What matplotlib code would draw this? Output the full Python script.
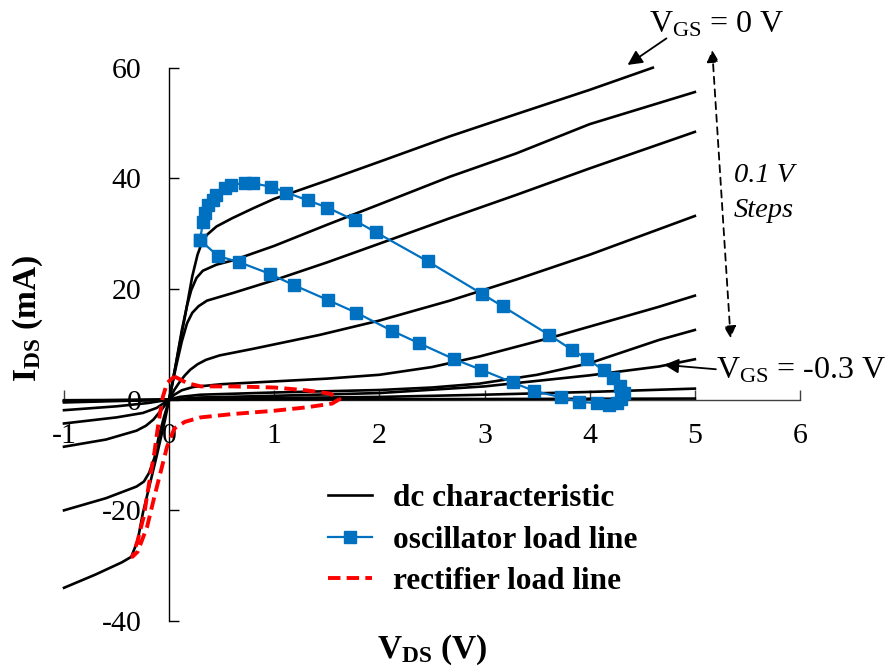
import matplotlib
matplotlib.use("Agg")
import matplotlib.pyplot as plt
from matplotlib.lines import Line2D

plt.rcParams['font.family'] = ['Liberation Serif', 'DejaVu Serif']
plt.rcParams['mathtext.fontset'] = 'custom'
plt.rcParams['mathtext.rm'] = 'Liberation Serif'
plt.rcParams['mathtext.it'] = 'Liberation Serif:italic'
plt.rcParams['mathtext.bf'] = 'Liberation Serif:bold'

# ---------------- data ----------------
# dc characteristic curves (VGS = 0 V ... -0.3 V and below)
dcA_v = [-1.0, -0.7, -0.45, -0.36, -0.3, -0.25, -0.18, -0.12, -0.04, 0, 0.08, 0.16, 0.22, 0.27, 0.31, 0.36, 0.45, 0.6, 0.8, 1.0, 1.5, 2.0, 2.67, 3.3, 4.0, 4.6]
dcA_i = [-34, -31.6, -29.4, -28.4, -25.5, -20.5, -15, -10.3, -3.7, 0, 8, 16, 22.3, 26.2, 28.3, 29.8, 31.3, 32.8, 34.6, 36.3, 39.6, 43, 47.6, 51.6, 56, 60]
dcB_v = [-1.0, -0.6, -0.31, -0.24, -0.19, -0.14, -0.1, -0.05, 0, 0.06, 0.12, 0.17, 0.21, 0.26, 0.32, 0.45, 0.61, 1.0, 1.5, 2.0, 2.67, 3.3, 4.0, 5.0]
dcB_i = [-20, -17.8, -15.7, -14.8, -13.2, -10.5, -6.8, -3.2, 0, 6, 12.5, 17, 19.8, 22, 23.3, 24.4, 25.2, 27.8, 31.6, 35.3, 40.3, 44.5, 49.8, 55.6]
dcC_v = [-1.0, -0.6, -0.31, -0.22, -0.15, -0.08, 0, 0.06, 0.12, 0.17, 0.22, 0.28, 0.36, 0.61, 1.0, 1.5, 2.0, 2.67, 3.3, 4.0, 5.0]
dcC_i = [-8.5, -7.2, -5.6, -4.7, -3.6, -2.0, 0, 5.5, 10.5, 13.8, 15.7, 16.9, 17.9, 19.3, 21.6, 24.8, 28.2, 32.8, 37, 41.8, 48.4]
dcD_v = [-1.0, -0.5, -0.25, -0.12, 0, 0.05, 0.1, 0.15, 0.2, 0.27, 0.35, 0.48, 0.8, 1.43, 2.0, 2.67, 3.3, 4.0, 5.0]
dcD_i = [-4.3, -3.2, -2.4, -1.5, 0, 1.8, 3.2, 4.4, 5.4, 6.4, 7.2, 8.0, 9.2, 11.7, 14.3, 17.9, 21.7, 26.2, 33.2]
dcE_v = [-1.0, -0.5, -0.2, 0, 0.05, 0.12, 0.23, 0.5, 1.0, 1.5, 2.0, 2.5, 2.95, 3.61, 4.2, 4.66, 5.0]
dcE_i = [-1.9, -1.2, -0.6, 0, 0.9, 1.7, 2.3, 2.8, 3.3, 3.8, 4.5, 5.9, 7.8, 11.1, 14.3, 16.8, 18.8]
dcF_v = [-1.0, 0, 0.1, 0.3, 1.0, 2.0, 2.5, 2.95, 3.5, 4.0, 4.66, 5.0]
dcF_i = [-0.5, 0, 0.5, 0.9, 1.3, 1.75, 2.2, 2.9, 4.5, 6.6, 10.8, 12.6]
dcG_v = [-1.0, 0, 0.3, 1.0, 2.0, 3.0, 4.0, 4.66, 5.0]
dcG_i = [-0.3, 0, 0.4, 0.7, 1.2, 2.4, 4.4, 6.0, 7.3]
dcH_v = [-1.0, 0, 1.0, 2.0, 3.0, 4.0, 5.0]
dcH_i = [-0.2, 0, 0.3, 0.5, 0.9, 1.4, 2.0]
dcI_v = [-1.0, 0, 5.0]
dcI_i = [-0.1, 0, 0.2]

# oscillator load line (closed loop, square markers)
osc_v = [0.293, 0.323, 0.339, 0.370, 0.418, 0.450, 0.529, 0.593, 0.719, 0.798, 0.972, 1.115, 1.320, 1.505,
         1.764, 1.966, 2.460, 2.974, 3.172, 3.615, 3.834, 3.974, 4.133, 4.220, 4.285, 4.323, 4.299, 4.261,
         4.185, 4.074, 3.894, 3.727, 3.473, 3.267, 2.967, 2.713, 2.378, 2.120, 1.780, 1.510, 1.184, 0.956,
         0.662, 0.465, 0.293]
osc_i = [28.85, 32.16, 33.68, 35.18, 36.08, 36.98, 38.19, 38.79, 39.20, 39.10, 38.48, 37.43, 36.02, 34.72,
         32.41, 30.26, 25.00, 19.15, 16.87, 11.69, 8.98, 7.39, 5.31, 3.87, 2.51, 1.16, 0.13, -0.54,
         -0.96, -0.65, -0.36, 0.43, 1.57, 3.11, 5.42, 7.30, 10.19, 12.45, 15.72, 18.01, 20.72, 22.76,
         24.88, 25.96, 28.85]

# rectifier load line (closed loop, dashed)
rect_v = [0.05, 0.17, 0.3, 0.6, 1.0, 1.3, 1.53, 1.62, 1.55, 1.3, 1.0, 0.6, 0.3, 0.15, 0.05, -0.02, -0.08,
          -0.14, -0.21, -0.3, -0.35, -0.3, -0.24, -0.19, -0.14, -0.1, -0.06, -0.02, 0.05]
rect_i = [4.2, 3.0, 2.4, 2.4, 2.2, 1.7, 1.1, 0.1, -0.7, -1.4, -2.0, -2.6, -3.2, -4.0, -5.2, -8.5, -13,
          -17.5, -23, -27.5, -28.4, -25.5, -21, -15, -9.5, -4, 0.5, 3.0, 4.2]

x_ticks = [-1, 0, 1, 2, 3, 4, 5, 6]
y_ticks = [-40, -20, 0, 20, 40, 60]

# ---------------- figure ----------------
W, H = 888, 672
fig = plt.figure(figsize=(W / 100, H / 100), dpi=100)
ax = fig.add_axes([64 / W, 1 - 621 / H, 736 / W, (621 - 67.7) / H])
ax.set_xlim(-1, 6)
ax.set_ylim(-40, 60)

dc_curves = [(dcA_v, dcA_i), (dcB_v, dcB_i), (dcC_v, dcC_i), (dcD_v, dcD_i), (dcE_v, dcE_i),
             (dcF_v, dcF_i), (dcG_v, dcG_i), (dcH_v, dcH_i), (dcI_v, dcI_i)]
for v, i in dc_curves:
    ax.plot(v, i, color='black', lw=1.9, solid_joinstyle='round', zorder=3, clip_on=False)

ax.plot(osc_v, osc_i, color='#0070C0', lw=1.6, marker='s', markersize=8.5,
        markerfacecolor='#0070C0', markeredgecolor='#0070C0', zorder=4)
ax.plot(rect_v, rect_i, color='#FF0000', lw=2.8, dashes=(3.2, 1.6), zorder=5)

# axes styling
for s in ['top', 'right']:
    ax.spines[s].set_visible(False)
ax.spines['left'].set_position(('data', 0))
ax.spines['bottom'].set_position(('data', 0))
ax.spines['left'].set_color('black')
ax.spines['bottom'].set_color('#404040')
ax.spines['left'].set_linewidth(1.0)
ax.spines['bottom'].set_linewidth(1.0)
ax.set_xticks(x_ticks)
ax.set_yticks(y_ticks)
ax.set_xticklabels([str(t) for t in x_ticks])
ax.set_yticklabels([str(t) for t in y_ticks])
ax.tick_params(axis='x', direction='in', length=7, width=1.0, color='#404040', pad=17, labelsize=21.5)
ax.tick_params(axis='y', direction='in', length=7, width=1.0, color='black', pad=20, labelsize=21.5)
ax.patch.set_visible(False)

# axis titles
fig.text(28 / W, 1 - 318 / H, r'$\mathbf{I_{DS}}$ (mA)', rotation=90, ha='center', va='center',
         fontsize=24, fontweight='bold')
fig.text(432 / W, 1 - 650 / H, r'$\mathbf{V_{DS}}$ (V)', ha='center', va='center',
         fontsize=24, fontweight='bold')

# annotations
ax.annotate('', xy=(4.36, 60.5), xytext=(4.73, 65.3), annotation_clip=False,
            arrowprops=dict(arrowstyle='-|>', color='black', lw=1.3, mutation_scale=22, shrinkA=0, shrinkB=0))
ax.text(4.565, 67.7, r'$\mathrm{V_{GS}}$ = 0 V', ha='left', va='center', fontsize=23, clip_on=False)
ax.annotate('', xy=(5.165, 63.2), xytext=(5.34, 11.1), annotation_clip=False,
            arrowprops=dict(arrowstyle='<|-|>', color='black', lw=1.3, linestyle=(0, (4, 3)),
                            mutation_scale=18, shrinkA=0, shrinkB=0))
ax.text(5.37, 40.6, '0.1 V', ha='left', va='center', fontsize=20.5, style='italic', clip_on=False)
ax.text(5.37, 34.2, 'Steps', ha='left', va='center', fontsize=20.5, style='italic', clip_on=False)
ax.annotate('', xy=(4.707, 6.3), xytext=(5.2, 5.5), annotation_clip=False,
            arrowprops=dict(arrowstyle='-|>', color='black', lw=1.3, mutation_scale=22, shrinkA=0, shrinkB=0))
ax.text(5.2, 5.2, r'$\mathrm{V_{GS}}$ = -0.3 V', ha='left', va='center', fontsize=23, clip_on=False)

# legend
handles = [Line2D([], [], color='black', lw=1.9),
           Line2D([], [], color='#0070C0', lw=1.6, marker='s', markersize=8.5),
           Line2D([], [], color='#FF0000', lw=2.8, dashes=(3.2, 1.6))]
labels = ['dc characteristic', 'oscillator load line', 'rectifier load line']
fig.legend(handles, labels, loc='upper left', bbox_to_anchor=(328 / W, 1 - 484 / H), frameon=False,
           borderpad=0, borderaxespad=0, handlelength=1.4, handletextpad=0.67, labelspacing=0.4,
           prop={'weight': 'bold', 'size': 22.5})

fig.savefig('out.png', dpi=100)
